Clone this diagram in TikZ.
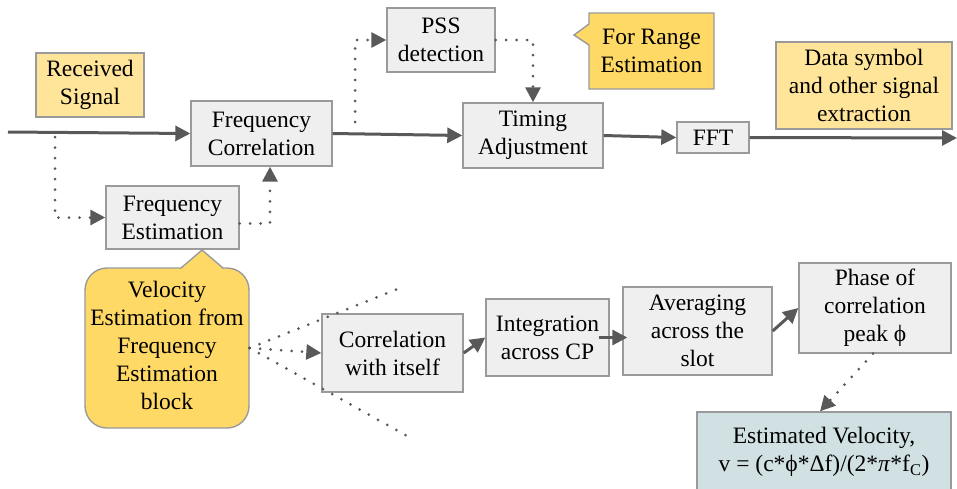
\documentclass[tikz,border=0pt]{standalone}
\usepackage{fontspec}
\setmainfont{Liberation Serif}
\usetikzlibrary{arrows.meta}
\definecolor{gfill}{HTML}{EFEFEF}
\definecolor{gdraw}{HTML}{9A9A9A}
\definecolor{ylight}{HTML}{FFE599}
\definecolor{ydark}{HTML}{FFD966}
\definecolor{bfill}{HTML}{D0E0E3}
\definecolor{lcol}{HTML}{595959}
\tikzset{
  txt/.style={align=center,font=\fontsize{23.5}{28}\selectfont,inner sep=0pt},
  gbox/.style={txt,draw=gdraw,fill=gfill,line width=1.4pt},
  ybox/.style={txt,draw=gdraw,fill=ylight,line width=1.4pt},
  dbox/.style={txt,draw=gdraw,fill=ydark,line width=1.4pt},
  bbox/.style={txt,draw=gdraw,fill=bfill,line width=1.4pt},
  arr/.style={draw=lcol,line width=3pt,-{Triangle[length=15pt,width=15pt]}},
  dotline/.style={draw=lcol,line width=3pt,line cap=round,dash pattern=on 0pt off 10.5pt},
  dotarr/.style={dotline,-{Triangle[length=15pt,width=15pt]}},
}
\begin{document}
\begin{tikzpicture}[x=1pt,y=-1pt]
\useasboundingbox (0,0) rectangle (957,488);
\clip (0,0) rectangle (957,488);
% top row
\node[ybox,minimum width=108,minimum height=64] (rs) at (90,85) {Received\\Signal};
\node[gbox,minimum width=141,minimum height=65] (fc) at (261.5,133.5) {Frequency\\Correlation};
\node[gbox,minimum width=133,minimum height=63] (fe) at (172.5,217.5) {Frequency\\Estimation};
\node[gbox,minimum width=108,minimum height=64] (pss) at (441,40) {PSS\\detection};
\node[gbox,minimum width=140,minimum height=65] (ta) at (533,135.5) {Timing\\Adjustment};
\node[gbox,minimum width=72,minimum height=31] (fft) at (713,137.5) {FFT};
\node[ybox,minimum width=176,minimum height=87] (data) at (864,85.5) {Data symbol\\and other signal\\extraction};
% range callout
\draw[draw=gdraw,fill=ydark,line width=1.4pt] (589,13) -- (714,13) -- (714,89) -- (589,89) -- (589,45) -- (574,35) -- (589,24) -- cycle;
\node[txt] (range) at (651.5,51) {For Range\\Estimation};
% velocity callout
\node[dbox,rounded corners=22pt,minimum width=164,minimum height=160] (vel) at (167,348) {};
\fill[ydark] (181,269.2) -- (202,250) -- (223,269.2) -- cycle;
\draw[gdraw,line width=1.4pt,line join=miter] (181,268) -- (202,250) -- (223,268);
\node[txt] (veltxt) at (167,345) {Velocity\\Estimation from\\Frequency\\Estimation\\block};
% bottom row
\node[gbox,minimum width=141,minimum height=78] (corr) at (392.5,353) {Correlation\\with itself};
\node[gbox,minimum width=123,minimum height=77] (int) at (547.5,337.5) {Integration\\across CP};
\node[gbox,minimum width=149,minimum height=88] (avg) at (697.5,331) {Averaging\\across the\\slot};
\node[gbox,minimum width=152,minimum height=90] (ph) at (875,308) {Phase of\\correlation\\peak ϕ};
\node[bbox,minimum width=254,minimum height=80] (est) at (824,452) {Estimated Velocity,\\v = (c*ϕ*Δf)/(2*\textit{π}*f\textsubscript{C})};
% connectors top
\coordinate (in) at (8,132);
\coordinate (out) at (957,138);
\coordinate (s1) at (55,137);
\coordinate (s2) at (355,122);
\draw[arr] (in) -- (fc.west);
\draw[arr] (fc.east) -- (ta.west);
\draw[arr] (ta.east) -- (fft.west);
\draw[arr] (fft.east) -- (out);
\draw[dotarr] (s1) |- (fe.west);
\draw[dotarr] ([yshift=-6pt]fe.east) -| ([xshift=8.5pt]fc.south);
\draw[dotarr] (s2) |- (pss.west);
\draw[dotarr] (pss.east) -| (ta.north);
% connectors bottom
\coordinate (fu) at (405,286);
\coordinate (fd) at (407,436);
\draw[dotline] (vel.east) -- (fu);
\draw[dotline] (vel.east) -- (fd);
\draw[dotarr] (vel.east) -- (corr.west);
\draw[arr] (corr.east) -- (int.west);
\draw[arr] ([xshift=-11pt]int.east) -- ([xshift=5pt]avg.west |- int.east);
\draw[arr] (avg.east) -- (ph.west);
\draw[dotarr] ([xshift=-2pt]ph.south) -- ([xshift=-4pt]est.north);
\end{tikzpicture}
\end{document}
